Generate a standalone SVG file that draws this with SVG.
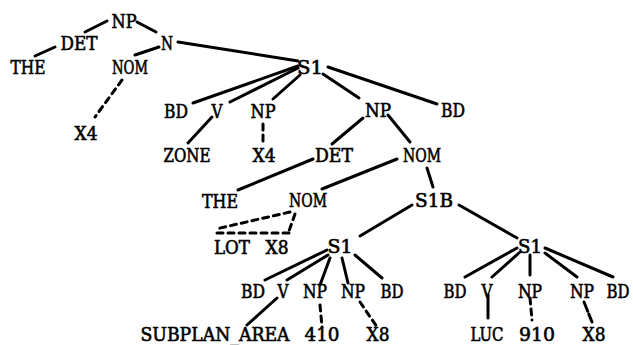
<svg xmlns="http://www.w3.org/2000/svg" width="633" height="345" viewBox="0 0 633 345">
<style>
text{font-family:"DejaVu Serif","Liberation Serif",serif;font-size:18px;fill:#000;stroke:#000;stroke-width:0.6;text-anchor:middle}
.e{stroke:#000;stroke-width:3;stroke-linecap:round;fill:none}
.d{stroke-dasharray:6 5}
</style>
<rect width="633" height="345" fill="#fff"/>
<g id="connectors">
<line class="e" x1="107" y1="21" x2="85" y2="32"/>
<line class="e" x1="137" y1="22" x2="156" y2="32"/>
<line class="e" x1="55" y1="47" x2="35" y2="56"/>
<line class="e" x1="159" y1="47" x2="135" y2="55"/>
<line class="e" x1="178" y1="42" x2="298" y2="61"/>
<line class="e d" x1="122" y1="80" x2="95" y2="117"/>
<line class="e" x1="298" y1="66" x2="193" y2="103"/>
<line class="e" x1="298" y1="68" x2="230" y2="102"/>
<line class="e" x1="300" y1="75" x2="273" y2="99"/>
<line class="e" x1="212" y1="117" x2="188" y2="143"/>
<line class="e d" x1="263" y1="124" x2="263" y2="142"/>
<line class="e" x1="323" y1="74" x2="359" y2="98"/>
<line class="e" x1="328" y1="67" x2="437" y2="104"/>
<line class="e" x1="363" y1="118" x2="332" y2="144"/>
<line class="e" x1="388" y1="115" x2="410" y2="142"/>
<line class="e" x1="313" y1="159" x2="238" y2="190"/>
<line class="e" x1="397" y1="159" x2="322" y2="189"/>
<line class="e" x1="427" y1="168" x2="433" y2="187"/>
<line class="e d" x1="290" y1="212" x2="216" y2="229"/>
<line class="e d" x1="295" y1="214" x2="289" y2="231"/>
<line class="e d" x1="289" y1="233" x2="214" y2="233"/>
<line class="e" x1="412" y1="205" x2="360" y2="236"/>
<line class="e" x1="459" y1="205" x2="517" y2="238"/>
<line class="e" x1="327" y1="250" x2="265" y2="280"/>
<line class="e" x1="328" y1="255" x2="287" y2="280"/>
<line class="e" x1="330" y1="258" x2="320" y2="285"/>
<line class="e" x1="342" y1="258" x2="348" y2="283"/>
<line class="e" x1="355" y1="255" x2="382" y2="278"/>
<line class="e" x1="277" y1="298" x2="247" y2="325"/>
<line class="e d" x1="320" y1="305" x2="322" y2="327"/>
<line class="e d" x1="360" y1="302" x2="377" y2="327"/>
<line class="e" x1="517" y1="248" x2="465" y2="277"/>
<line class="e" x1="520" y1="252" x2="492" y2="277"/>
<line class="e" x1="530" y1="255" x2="530" y2="275"/>
<line class="e" x1="545" y1="253" x2="577" y2="277"/>
<line class="e" x1="545" y1="248" x2="613" y2="277"/>
<line class="e" x1="488" y1="295" x2="488" y2="318"/>
<line class="e d" x1="530" y1="298" x2="532" y2="320"/>
<line class="e" x1="584" y1="302" x2="592" y2="322" stroke-dasharray="10 3"/>
</g>
<g id="n_np0"><text x="124" y="28" textLength="25" lengthAdjust="spacingAndGlyphs">NP</text></g>
<g id="n_det0"><text x="79" y="50" textLength="37" lengthAdjust="spacingAndGlyphs">DET</text></g>
<g id="n_n0"><text x="167" y="50" textLength="12" lengthAdjust="spacingAndGlyphs">N</text></g>
<g id="n_the0"><text x="28" y="74" textLength="35" lengthAdjust="spacingAndGlyphs">THE</text></g>
<g id="n_nom0"><text x="130" y="74" textLength="36" lengthAdjust="spacingAndGlyphs">NOM</text></g>
<g id="n_x4a"><text x="86" y="140" textLength="23" lengthAdjust="spacingAndGlyphs">X4</text></g>
<g id="n_s1a"><text x="310" y="74" textLength="26" lengthAdjust="spacingAndGlyphs">S1</text></g>
<g id="n_bd1"><text x="176" y="118" textLength="24" lengthAdjust="spacingAndGlyphs">BD</text></g>
<g id="n_v1"><text x="217" y="118" textLength="11" lengthAdjust="spacingAndGlyphs">V</text></g>
<g id="n_np1"><text x="263" y="118" textLength="25" lengthAdjust="spacingAndGlyphs">NP</text></g>
<g id="n_zone"><text x="187" y="162" textLength="47" lengthAdjust="spacingAndGlyphs">ZONE</text></g>
<g id="n_x4b"><text x="264" y="162" textLength="23" lengthAdjust="spacingAndGlyphs">X4</text></g>
<g id="n_np2"><text x="378" y="117" textLength="26" lengthAdjust="spacingAndGlyphs">NP</text></g>
<g id="n_bd2"><text x="453" y="117" textLength="24" lengthAdjust="spacingAndGlyphs">BD</text></g>
<g id="n_det2"><text x="334" y="162" textLength="38" lengthAdjust="spacingAndGlyphs">DET</text></g>
<g id="n_nom2"><text x="422" y="162" textLength="38" lengthAdjust="spacingAndGlyphs">NOM</text></g>
<g id="n_the2"><text x="220" y="208" textLength="36" lengthAdjust="spacingAndGlyphs">THE</text></g>
<g id="n_nom3"><text x="308" y="207" textLength="38" lengthAdjust="spacingAndGlyphs">NOM</text></g>
<g id="n_s1b"><text x="434" y="207" textLength="38" lengthAdjust="spacingAndGlyphs">S1B</text></g>
<g id="n_lot"><text x="232" y="254" textLength="36" lengthAdjust="spacingAndGlyphs">LOT</text></g>
<g id="n_x8a"><text x="277" y="254" textLength="23" lengthAdjust="spacingAndGlyphs">X8</text></g>
<g id="n_s1l"><text x="340" y="253" textLength="25" lengthAdjust="spacingAndGlyphs">S1</text></g>
<g id="n_s1r"><text x="530" y="253" textLength="24" lengthAdjust="spacingAndGlyphs">S1</text></g>
<g id="n_bd3"><text x="253" y="298" textLength="24" lengthAdjust="spacingAndGlyphs">BD</text></g>
<g id="n_v3"><text x="283" y="298" textLength="11" lengthAdjust="spacingAndGlyphs">V</text></g>
<g id="n_np3"><text x="315" y="298" textLength="24" lengthAdjust="spacingAndGlyphs">NP</text></g>
<g id="n_np4"><text x="353" y="298" textLength="24" lengthAdjust="spacingAndGlyphs">NP</text></g>
<g id="n_bd4"><text x="392" y="298" textLength="23" lengthAdjust="spacingAndGlyphs">BD</text></g>
<g id="n_bd5"><text x="455" y="298" textLength="23" lengthAdjust="spacingAndGlyphs">BD</text></g>
<g id="n_v5"><text x="487" y="298" textLength="11" lengthAdjust="spacingAndGlyphs">V</text></g>
<g id="n_np5"><text x="530" y="298" textLength="24" lengthAdjust="spacingAndGlyphs">NP</text></g>
<g id="n_np6"><text x="582" y="298" textLength="24" lengthAdjust="spacingAndGlyphs">NP</text></g>
<g id="n_bd6"><text x="618" y="298" textLength="23" lengthAdjust="spacingAndGlyphs">BD</text></g>
<g id="n_subplan"><text x="215" y="341" textLength="149" lengthAdjust="spacingAndGlyphs">SUBPLAN_AREA</text></g>
<g id="n_410"><text x="322" y="341" textLength="35" lengthAdjust="spacingAndGlyphs">410</text></g>
<g id="n_x8b"><text x="378" y="341" textLength="23" lengthAdjust="spacingAndGlyphs">X8</text></g>
<g id="n_luc"><text x="487" y="341" textLength="33" lengthAdjust="spacingAndGlyphs">LUC</text></g>
<g id="n_910"><text x="537" y="341" textLength="36" lengthAdjust="spacingAndGlyphs">910</text></g>
<g id="n_x8c"><text x="594" y="341" textLength="23" lengthAdjust="spacingAndGlyphs">X8</text></g>
</svg>
